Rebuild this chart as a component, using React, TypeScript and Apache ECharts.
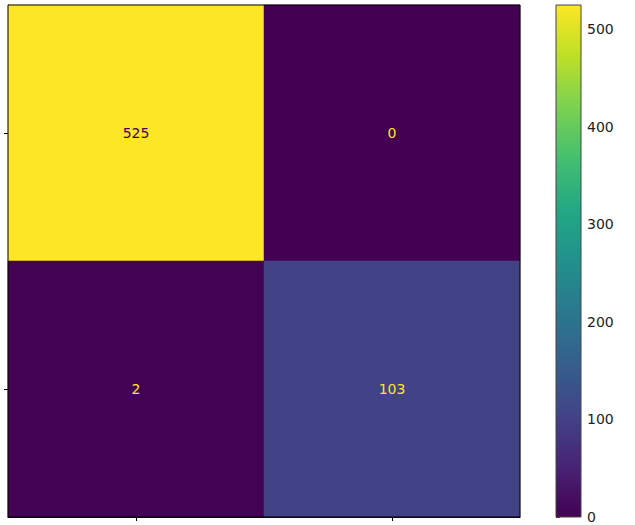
import React, { useEffect, useRef } from "react";
import * as echarts from "echarts";

const xCategories = ["0", "1"];
const yCategories = ["0", "1"];
// [col, row, value]
const cells: [number, number, number][] = [
  [0, 0, 525],
  [1, 0, 0],
  [0, 1, 2],
  [1, 1, 103],
];
const colorbarMin = 0;
const colorbarMax = 525;
const colorbarInterval = 100;

const viridis = [
  "#440154", "#482475", "#414487", "#355f8d", "#2a788e",
  "#21918c", "#22a884", "#44bf70", "#7ad151", "#bddf26", "#fde725",
];

export default function App() {
  const ref = useRef<HTMLDivElement>(null);
  useEffect(() => {
    if (!ref.current) return;
    const chart = echarts.init(ref.current, undefined, { renderer: "svg" });
    const font = "DejaVu Sans";
    const gx = 8, gy = 5, gw = 512, gh = 512;
    const cx = 556, cw = 25;
    chart.setOption({
      animation: false,
      textStyle: { fontFamily: font },
      grid: [
        { left: gx, top: gy, width: gw, height: gh },
        { left: cx, top: gy, width: cw, height: gh },
      ],
      xAxis: [
        {
          type: "category", data: xCategories, gridIndex: 0,
          axisLine: { show: true, lineStyle: { color: "#000", width: 1 } },
          axisTick: { show: true, alignWithLabel: true, length: 4, lineStyle: { color: "#000" } },
          axisLabel: { show: false },
          splitLine: { show: false },
        },
        {
          type: "value", gridIndex: 1, show: false, min: 0, max: 1,
        },
      ],
      yAxis: [
        {
          type: "category", data: yCategories, gridIndex: 0, inverse: true,
          axisLine: { show: true, lineStyle: { color: "#000", width: 1 } },
          axisTick: { show: true, alignWithLabel: true, length: 4, lineStyle: { color: "#000" } },
          axisLabel: { show: false },
          splitLine: { show: false },
        },
        {
          type: "value", gridIndex: 1, position: "right",
          min: colorbarMin, max: colorbarMax, interval: colorbarInterval,
          axisLine: { show: false },
          axisTick: { show: true, length: 4, lineStyle: { color: "#333" } },
          axisLabel: {
            show: true, color: "#222", fontSize: 14, fontFamily: font, margin: 6,
            showMaxLabel: false,
          },
          splitLine: { show: false },
        },
      ],
      visualMap: {
        show: false, min: colorbarMin, max: colorbarMax, seriesIndex: 0,
        inRange: { color: viridis },
      },
      series: [
        {
          type: "heatmap", xAxisIndex: 0, yAxisIndex: 0,
          data: cells.map((c) => ({
            value: c,
            label: {
              show: true,
              formatter: String(c[2]),
              color: c[2] > (colorbarMax + colorbarMin) / 2 ? "#440154" : "#fde725",
              fontSize: 14, fontFamily: font,
            },
          })),
          emphasis: { disabled: true },
        },
      ],
      graphic: [
        {
          type: "rect", z: 100,
          shape: { x: gx, y: gy, width: gw, height: gh },
          style: { fill: "none", stroke: "#000", lineWidth: 1 },
        },
        {
          type: "rect", z: 50,
          shape: { x: cx, y: gy, width: cw, height: gh },
          style: {
            fill: new echarts.graphic.LinearGradient(0, 1, 0, 0,
              viridis.map((c, i) => ({ offset: i / (viridis.length - 1), color: c }))),
            stroke: "#444", lineWidth: 1,
          },
        },
      ],
    });
    return () => chart.dispose();
  }, []);
  return (
    <div
      ref={ref}
      style={{ position: "absolute", left: 0, top: 0, width: 635, height: 525 }}
    />
  );
}
